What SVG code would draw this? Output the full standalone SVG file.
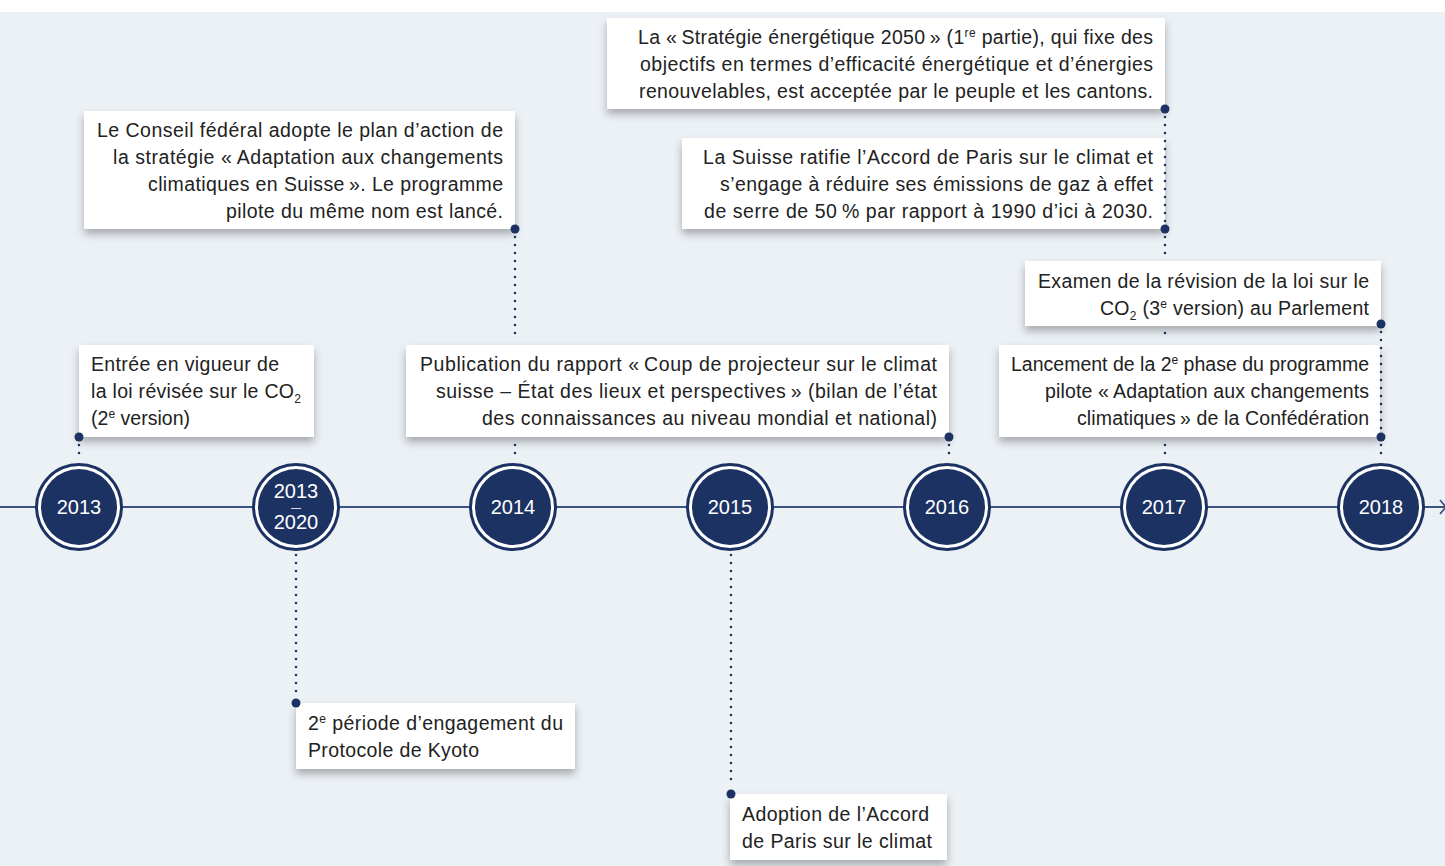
<svg xmlns="http://www.w3.org/2000/svg" width="1445" height="866" viewBox="0 0 1445 866">
<defs>
<style>
.bg{fill:#ECF1F6}
.box{fill:#ffffff;filter:url(#sh)}
.t{font-family:"Liberation Sans",Arial,sans-serif;font-size:19.5px;fill:#222222}
.r{text-anchor:end}
.yr{font-family:"Liberation Sans",Arial,sans-serif;font-size:20px;fill:#ffffff;text-anchor:middle}
.ring{fill:#1B3263}
.gap{fill:#ffffff}
.core{fill:#1B3263}
.dot{fill:#1B3263}
.dl{stroke:#1B3263;stroke-width:2.6;stroke-linecap:round;stroke-dasharray:0 8;fill:none}
.axis{stroke:#3A5383;stroke-width:1.8;fill:none}
</style>
<filter id="sh" x="-10%" y="-20%" width="120%" height="150%">
<feDropShadow dx="0" dy="5" stdDeviation="4" flood-color="#000000" flood-opacity="0.3"/>
</filter>
</defs>
<rect x="0" y="0" width="1445" height="866" fill="#ffffff"/>
<rect class="bg" x="0" y="12" width="1445" height="854"/>

<g id="axis">
<line class="axis" x1="0" y1="507" x2="1445" y2="507"/>
<path class="axis" d="M1440,500 L1446,507 L1440,514"/>
</g>

<g id="y2013"><circle class="ring" cx="79" cy="507" r="44"/><circle class="gap" cx="79" cy="507" r="41"/><circle class="core" cx="79" cy="507" r="38"/><text class="yr" x="79" y="514">2013</text></g>
<g id="y2013-2020"><circle class="ring" cx="296" cy="507" r="44"/><circle class="gap" cx="296" cy="507" r="41"/><circle class="core" cx="296" cy="507" r="38"/><text class="yr" x="296" y="498">2013</text><text class="yr" x="296" y="511" style="font-size:10px">—</text><text class="yr" x="296" y="529">2020</text></g>
<g id="y2014"><circle class="ring" cx="513" cy="507" r="44"/><circle class="gap" cx="513" cy="507" r="41"/><circle class="core" cx="513" cy="507" r="38"/><text class="yr" x="513" y="514">2014</text></g>
<g id="y2015"><circle class="ring" cx="730" cy="507" r="44"/><circle class="gap" cx="730" cy="507" r="41"/><circle class="core" cx="730" cy="507" r="38"/><text class="yr" x="730" y="514">2015</text></g>
<g id="y2016"><circle class="ring" cx="947" cy="507" r="44"/><circle class="gap" cx="947" cy="507" r="41"/><circle class="core" cx="947" cy="507" r="38"/><text class="yr" x="947" y="514">2016</text></g>
<g id="y2017"><circle class="ring" cx="1164" cy="507" r="44"/><circle class="gap" cx="1164" cy="507" r="41"/><circle class="core" cx="1164" cy="507" r="38"/><text class="yr" x="1164" y="514">2017</text></g>
<g id="y2018"><circle class="ring" cx="1381" cy="507" r="44"/><circle class="gap" cx="1381" cy="507" r="41"/><circle class="core" cx="1381" cy="507" r="38"/><text class="yr" x="1381" y="514">2018</text></g>

<g id="n-entree">
<rect class="box" x="79" y="345" width="235" height="92"/>
<text class="t" x="91" y="371" textLength="188">Entrée en vigueur de</text>
<text class="t" x="91" y="398" textLength="210">la loi révisée sur le CO<tspan font-size="12" dy="5">2</tspan></text>
<text class="t" x="91" y="425" textLength="99">(2<tspan font-size="12" dy="-7">e</tspan><tspan dy="7"> version)</tspan></text>
</g>

<g id="n-conseil">
<rect class="box" x="84" y="111" width="431" height="118"/>
<text class="t r" x="503" y="137" textLength="406">Le Conseil fédéral adopte le plan d’action de</text>
<text class="t r" x="503" y="164" textLength="390">la stratégie «&#8201;Adaptation aux changements</text>
<text class="t r" x="503" y="191" textLength="355">climatiques en Suisse&#8201;». Le programme</text>
<text class="t r" x="503" y="218" textLength="277">pilote du même nom est lancé.</text>
</g>

<g id="n-publication">
<rect class="box" x="406" y="345" width="543" height="92"/>
<text class="t r" x="937" y="371" textLength="517">Publication du rapport «&#8201;Coup de projecteur sur le climat</text>
<text class="t r" x="937" y="398" textLength="501">suisse – État des lieux et perspectives&#8201;» (bilan de l’état</text>
<text class="t r" x="937" y="425" textLength="455">des connaissances au niveau mondial et national)</text>
</g>

<g id="n-strategie">
<rect class="box" x="607" y="18" width="558" height="91"/>
<text class="t r" x="1153" y="44" textLength="515">La «&#8201;Stratégie énergétique 2050&#8201;» (1<tspan font-size="12" dy="-7">re</tspan><tspan dy="7"> partie), qui fixe des</tspan></text>
<text class="t r" x="1153" y="71" textLength="513">objectifs en termes d’efficacité énergétique et d’énergies</text>
<text class="t r" x="1153" y="98" textLength="514">renouvelables, est acceptée par le peuple et les cantons.</text>
</g>

<g id="n-ratifie">
<rect class="box" x="682" y="138" width="483" height="91"/>
<text class="t r" x="1153" y="164" textLength="450">La Suisse ratifie l’Accord de Paris sur le climat et</text>
<text class="t r" x="1153" y="191" textLength="433">s’engage à réduire ses émissions de gaz à effet</text>
<text class="t r" x="1153" y="218" textLength="449">de serre de 50&#8201;% par rapport à 1990 d’ici à 2030.</text>
</g>

<g id="n-examen">
<rect class="box" x="1025" y="261" width="356" height="65"/>
<text class="t r" x="1369" y="288" textLength="331">Examen de la révision de la loi sur le</text>
<text class="t r" x="1369" y="315" textLength="269">CO<tspan font-size="12" dy="5">2</tspan><tspan dy="-5"> (3</tspan><tspan font-size="12" dy="-7">e</tspan><tspan dy="7"> version) au Parlement</tspan></text>
</g>

<g id="n-lancement">
<rect class="box" x="999" y="345" width="381" height="92"/>
<text class="t r" x="1369" y="371" textLength="358">Lancement de la 2<tspan font-size="12" dy="-7">e</tspan><tspan dy="7"> phase du programme</tspan></text>
<text class="t r" x="1369" y="398" textLength="324">pilote «&#8201;Adaptation aux changements</text>
<text class="t r" x="1369" y="425" textLength="292">climatiques&#8201;» de la Confédération</text>
</g>

<g id="n-kyoto">
<rect class="box" x="296" y="703" width="279" height="66"/>
<text class="t" x="308" y="730" textLength="255">2<tspan font-size="12" dy="-7">e</tspan><tspan dy="7"> période d’engagement du</tspan></text>
<text class="t" x="308" y="757" textLength="171">Protocole de Kyoto</text>
</g>

<g id="n-adoption">
<rect class="box" x="730" y="794" width="217" height="66"/>
<text class="t" x="742" y="821" textLength="187">Adoption de l’Accord</text>
<text class="t" x="742" y="848" textLength="190">de Paris sur le climat</text>
</g>

<g id="connectors">
<line class="dl" x1="79" y1="445" x2="79" y2="461"/>
<line class="dl" x1="515" y1="237" x2="515" y2="341"/>
<line class="dl" x1="515" y1="445" x2="515" y2="461"/>
<line class="dl" x1="949" y1="445" x2="949" y2="461"/>
<line class="dl" x1="1165" y1="117" x2="1165" y2="259"/>
<line class="dl" x1="1165" y1="333" x2="1165" y2="341"/>
<line class="dl" x1="1165" y1="445" x2="1165" y2="461"/>
<line class="dl" x1="1381" y1="332" x2="1381" y2="432"/>
<line class="dl" x1="1381" y1="445" x2="1381" y2="461"/>
<line class="dl" x1="296" y1="555" x2="296" y2="697"/>
<line class="dl" x1="731" y1="555" x2="731" y2="787"/>
<circle class="dot" cx="79" cy="437" r="4.5"/>
<circle class="dot" cx="515" cy="229" r="4.5"/>
<circle class="dot" cx="949" cy="437" r="4.5"/>
<circle class="dot" cx="1165" cy="109" r="4.5"/>
<circle class="dot" cx="1165" cy="229" r="4.5"/>
<circle class="dot" cx="1381" cy="324" r="4.5"/>
<circle class="dot" cx="1381" cy="437" r="4.5"/>
<circle class="dot" cx="296" cy="703" r="4.5"/>
<circle class="dot" cx="731" cy="794" r="4.5"/>
</g>
</svg>
